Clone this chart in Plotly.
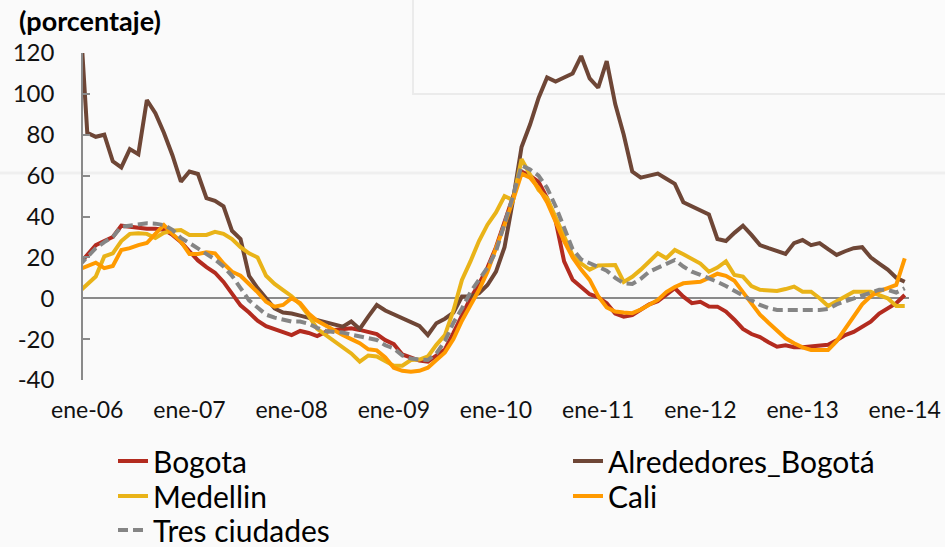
import plotly.graph_objects as go

# Month labels: one lead-in month (dic-05) that sits just left of the visible range,
# then ene-06 ... ene-14
MESES = ["ene", "feb", "mar", "abr", "may", "jun", "jul", "ago", "sep", "oct", "nov", "dic"]
meses = ["dic-05"] + [f"{m}-{a:02d}" for a in range(6, 14) for m in MESES] + ["ene-14"]
tick_labels = [f"ene-{a:02d}" for a in range(6, 15)]

# Annual variation (%) by city, monthly, dic-05 .. ene-14
bogota = [16.4,
          21, 26, 28, 30, 35.5, 35, 34.5, 34, 34, 33.5, 31, 27.5,
          23, 18.5, 15.2, 12.5, 8, 2.5, -3.5, -7, -11, -13.7, -15, -16.5,
          -18, -16, -17, -18.5, -16.5, -15.5, -15, -14.7, -15.5, -16.5, -17.5, -20.5,
          -22.5, -27.5, -29, -30.5, -31, -28, -25, -17, -8, 0, 7, 15,
          25, 37, 50, 62, 60, 57, 49, 38, 18, 9, 5.5, 2,
          0.5, -2.4, -7.5, -9, -8.2, -5.5, -3, -1.5, 2, 4.9, 0.8, -2.4,
          -1.7, -4, -4.1, -6.5, -10.5, -15, -17.5, -19, -21.5, -23.7, -23, -24,
          -24, -23.7, -23, -22.8, -20.5, -18, -16.5, -14, -11.5, -7.5, -5, -2.4,
          1.6]

alrededores = [149,
               81, 79, 80, 67, 64, 73, 70.5, 97, 90.6, 81, 70, 57,
               62, 60.8, 49, 47.7, 45, 33, 29, 11, 5, 0, -5, -7,
               -7.5, -8.5, -9.5, -11, -12, -13, -13.9, -11.4, -15, -9, -3.3, -6,
               -8, -10, -11.5, -13.5, -18, -12.2, -10, -7, 0.8, 0.8, 2.4, 6.5,
               13, 25, 48, 74, 85, 98, 108, 106, 108, 110, 118.5, 107.6,
               103, 116, 95, 80, 62, 59, 60, 61, 58.5, 56, 47, 45,
               43, 41, 29, 28, 32, 35.5, 31, 26, 24.5, 23, 21.7, 27,
               28.5, 26, 27, 24, 21.2, 23, 24.5, 25, 20, 17, 14, 10,
               8.1]

medellin = [3,
            7, 10.6, 20.5, 22, 28, 31.5, 31.8, 31.5, 29.5, 32, 33, 33.4,
            31, 31, 31, 32.5, 31.5, 29, 25, 22, 20, 11, 7, 4,
            1, -3, -8.5, -15, -18, -21, -23.5, -27, -31, -28, -28.5, -31,
            -33, -33, -30.2, -30, -28.5, -22.8, -18, -6, 9, 18, 28, 36,
            42, 50, 48, 68, 60, 53, 49, 40, 30, 21, 17, 14,
            16, 16.3, 16.3, 8, 10.5, 14, 18, 22, 19.6, 23.6, 21.5, 19.5,
            17, 13, 15, 18, 11.4, 10.6, 6, 4.1, 4, 3.6, 4.5, 5.7,
            3.2, 3.2, 0, -3.8, -1.5, 1, 3.2, 3.2, 3.2, 1.5, 0, -3.8,
            -3.8]

cali = [14,
        15.5, 17.4, 14.7, 15.8, 23.6, 24.5, 26, 27, 31.5, 35.8, 31.5, 27.7,
        21.7, 21.7, 22.5, 22, 17, 13, 11, 7, 3, -1.7, -4.1, -3.3,
        0, -2.4, -7.5, -11, -13.5, -15.5, -18, -20, -22, -25, -25.5, -29,
        -34, -35.5, -36, -35.5, -34, -30.2, -26.5, -20, -11, -3.5, 4, 13,
        24, 36, 48, 61, 59, 54, 47, 37, 28, 20, 14, 9,
        1, -4.5, -6.5, -7, -7.3, -5.5, -3, -0.8, 3, 5.5, 7.3, 7.8,
        8.1, 10, 12, 11, 8.5, 3, -2.5, -8, -12, -16, -19.6, -22,
        -24, -25.3, -25.3, -25.3, -21, -15, -9, -3, 1, 3.5, 5, 6.5,
        19.5]

tres_ciudades = [15.8,
                 20, 24.5, 27.5, 30, 35, 35.5, 36, 36.7, 36.5, 35.8, 33.5, 29.5,
                 27, 24.5, 22, 19, 15.5, 11, 5, -1, -4.5, -8, -9.5, -10.5,
                 -11.4, -11.4, -12.5, -14.5, -16, -16.5, -16.8, -17.8, -18.8, -19.6, -20.4, -23,
                 -24.5, -28, -29.5, -30, -30.2, -27, -21, -12, -5, 3, 9, 15,
                 23, 36, 50, 65, 63, 60, 54, 45, 35, 24, 19, 17,
                 15.5, 13.5, 10, 7.3, 7, 9.5, 13, 15, 17, 18.7, 15.5, 13,
                 11.5, 10, 8, 6, 3.5, 1.5, -1, -3.3, -4.8, -5.7, -5.7, -5.7,
                 -5.7, -5.7, -5.7, -5.2, -3, -1.5, 0, 1.5, 3, 4.1, 4.1, 2.8,
                 4.9]

y_ticks = [-40, -20, 0, 20, 40, 60, 80, 100, 120]
y_tick_text = [str(v) for v in y_ticks]  # plain hyphen for negatives

FONT = "Lato"
AXIS_GREY = "#8a8a8a"
BG = "#fafafa"

# plot-area geometry in pixels
L, R, T, B = 83, 36, 53, 167
W, H = 945 - L - R, 547 - T - B


def px_x(px):
    return (px - L) / W


def px_y(py):
    return (547 - B - py) / H


# name, values, colour, dash, legend row, entry width in the legend row
series = [
    ("Bogota", bogota, "#b32b1f", "solid", "legend", 410),
    ("Alrededores_Bogotá", alrededores, "#6e4636", "solid", "legend", None),
    ("Medellin", medellin, "#e9b318", "solid", "legend2", 410),
    ("Cali", cali, "#ff9a00", "solid", "legend2", None),
    ("Tres ciudades", tres_ciudades, "#858585", "10px,5px", "legend3", None),
]

fig = go.Figure()
for name, vals, color, dash, leg, lw in series:
    tr = go.Scatter(
        x=meses, y=vals, name=name, mode="lines", legend=leg,
        line=dict(color=color, width=4, dash=dash),
        hoverinfo="x+y+name",
    )
    if lw is not None:
        tr.legendwidth = lw
    fig.add_trace(tr)

first = meses.index("ene-06")
last = meses.index("ene-14")
x_range = [first - 0.5, last + 0.5]
# tick marks sit on the boundaries between months, left of each January
boundary_ticks = [meses.index(t) - 0.5 for t in tick_labels]


def legend_row(py):
    return dict(
        xref="paper", yref="paper", x=px_x(113), y=px_y(py),
        xanchor="left", yanchor="middle", orientation="h",
        bgcolor="rgba(0,0,0,0)", borderwidth=0,
        font=dict(size=30, family=FONT, color="#000000"),
    )


fig.update_layout(
    width=945, height=547,
    margin=dict(l=L, r=R, t=T, b=B, autoexpand=False),
    paper_bgcolor=BG, plot_bgcolor=BG,
    font=dict(family=FONT, color="#111111", size=23),
    showlegend=True,
    xaxis=dict(
        type="category", range=x_range,
        tickmode="array", tickvals=tick_labels, ticktext=tick_labels,
        ticks="", showline=False, showgrid=False, zeroline=False,
        tickfont=dict(size=23, family=FONT, color="#111111"),
        ticklabelstandoff=14, tickangle=0,
    ),
    xaxis2=dict(
        overlaying="x", anchor="free", position=0.25, side="bottom",
        type="linear", range=x_range,
        tickmode="array", tickvals=boundary_ticks,
        ticks="inside", ticklen=7, tickwidth=1.5, tickcolor=AXIS_GREY,
        showticklabels=False, showline=False, showgrid=False, zeroline=False,
    ),
    yaxis=dict(
        range=[-40, 120], tickmode="array", tickvals=y_ticks, ticktext=y_tick_text,
        ticks="inside", ticklen=7, tickwidth=1.5, tickcolor=AXIS_GREY,
        showline=True, linecolor=AXIS_GREY, linewidth=1.5,
        showgrid=False,
        zeroline=True, zerolinecolor=AXIS_GREY, zerolinewidth=1.5,
        tickfont=dict(size=24, family=FONT, color="#111111"),
        ticklabelstandoff=22,
    ),
    legend=legend_row(461),
    legend2=legend_row(496),
    legend3=legend_row(530),
    annotations=[dict(
        text="<b>(porcentaje)</b>", xref="paper", yref="paper",
        x=px_x(17), y=px_y(3), xanchor="left", yanchor="top",
        height=30, valign="middle",
        showarrow=False, font=dict(size=27, family=FONT, color="#000000"),
    )],
    shapes=[
        # faint panel outline in the upper right and a soft rule across the page
        dict(type="rect", xref="paper", yref="paper", layer="below",
             x0=px_x(413), x1=px_x(960), y0=px_y(94), y1=px_y(-10),
             line=dict(color="#ebebeb", width=2), fillcolor="#fbfbfb"),
        dict(type="line", xref="paper", yref="paper", layer="below",
             x0=px_x(-10), x1=px_x(960), y0=px_y(173), y1=px_y(173),
             line=dict(color="#efefef", width=3)),
    ],
)

fig.write_html("out.html")
